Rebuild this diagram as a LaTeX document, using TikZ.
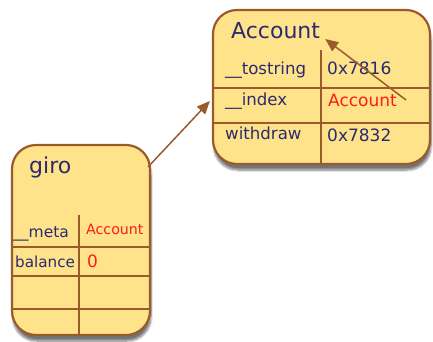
\documentclass[tikz,border=0pt]{standalone}
\usepackage{fontspec}
\setmainfont{DejaVu Sans}
\usetikzlibrary{arrows.meta, shadows.blur}
\definecolor{cellfill}{HTML}{FEE38B}
\definecolor{cellrim}{HTML}{9B5A2A}
\definecolor{inkblue}{HTML}{2B2A6E}
\definecolor{inkred}{HTML}{FF1A1A}

\begin{document}
\begin{tikzpicture}[
  x=1pt, y=-1pt,
  table/.style = {rectangle, draw=cellrim, line width=2.2pt, fill=cellfill,
                  rounded corners=24pt, inner sep=0pt,
                  blur shadow={shadow xshift=1pt, shadow yshift=-6pt,
                               shadow blur steps=8, shadow opacity=55}},
  rule/.style  = {draw=cellrim, line width=1.8pt},
  title/.style = {anchor=west, inner sep=0pt, text=inkblue, font=\fontsize{22}{24}\selectfont},
  field/.style = {anchor=west, inner sep=0pt, text=inkblue, font=\fontsize{16.6}{18}\selectfont},
  value/.style = {anchor=west, inner sep=0pt, text=inkred, font=\fontsize{15}{18}\selectfont},
  link/.style  = {draw=cellrim, line width=1.5pt, -{Triangle[length=13pt, width=11pt]}}
]
\useasboundingbox (0,0) rectangle (433,341);
% Account table
\node[table, minimum width=217pt, minimum height=154pt] (acct) at (321.5,87) {};
\draw[rule] (321,50) -- (321,164);
\draw[rule] (213,88) -- (430,88);
\draw[rule] (213,123) -- (430,123);
\node[title] (accttitle) at (231,31) {Account};
\node[field] (tostr)  at (225,70)  {\_\_tostring};
\node[field, font=\fontsize{17}{18}\selectfont] (tostrval) at (327,68) {0x7816};
\node[field] (idx)    at (225,101) {\_\_index};
\node[value, font=\fontsize{17}{18}\selectfont] (idxval) at (328,100) {Account};
\node[field] (wdraw)  at (225,133) {withdraw};
\node[field, font=\fontsize{17}{18}\selectfont] (wdrawval) at (327,135) {0x7832};
% giro table
\node[table, minimum width=138pt, minimum height=190pt] (giro) at (81,240) {};
\draw[rule] (79,215) -- (79,335);
\draw[rule] (12,247) -- (150,247);
\draw[rule] (12,276) -- (150,276);
\draw[rule] (12,309) -- (150,309);
\node[title] (girotitle) at (29,167) {giro};
\node[field, font=\fontsize{15.5}{18}\selectfont] (meta) at (13,234) {\_\_meta};
\node[value, font=\fontsize{14.2}{18}\selectfont] (metaval) at (86,229) {Account};
\node[field, font=\fontsize{15.2}{18}\selectfont] (bal) at (15,262) {balance};
\node[value, font=\fontsize{17}{18}\selectfont] (balval) at (87,261) {0};
% links
\draw[link] ([shift={(-3,23)}]giro.north east) -- ([shift={(-2,14)}]acct.west);
\draw[link] ([shift={(9,0)}]idxval.east) -- ([shift={(5,8)}]accttitle.east);
\end{tikzpicture}
\end{document}
